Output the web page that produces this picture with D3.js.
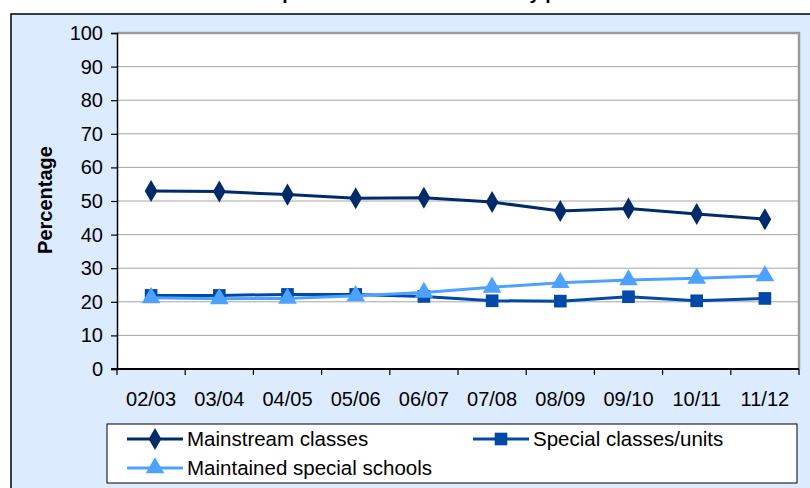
<!DOCTYPE html>
<html>
<head>
<meta charset="utf-8">
<script src="https://cdn.jsdelivr.net/npm/d3@7"></script>
<style>
  body { margin: 0; background: #fff; }
  svg { display: block; font-family: "Liberation Sans", Arial, sans-serif; }
</style>
</head>
<body>
<div id="chart"></div>
<script>
// data
var years = ["02/03", "03/04", "04/05", "05/06", "06/07", "07/08", "08/09", "09/10", "10/11", "11/12"];
var mainstream = [53.0, 52.8, 51.9, 50.8, 51.0, 49.7, 47.0, 47.8, 46.1, 44.6];
var specialUnits = [21.9, 21.9, 22.2, 22.2, 21.6, 20.3, 20.2, 21.5, 20.3, 21.0];
var specialSchools = [21.2, 20.9, 21.0, 21.8, 22.8, 24.3, 25.7, 26.5, 27.0, 27.7];
var yTicks = [0, 10, 20, 30, 40, 50, 60, 70, 80, 90, 100];

var series = [
  {name: "Mainstream classes", values: mainstream, color: "#002b6b", shape: "diamond"},
  {name: "Special classes/units", values: specialUnits, color: "#0049a9", shape: "square"},
  {name: "Maintained special schools", values: specialSchools, color: "#4da1ff", shape: "triangle"}
];

var W = 810, H = 488;
var margin = {top: 33, right: 11, bottom: 119, left: 117},
    width = W - margin.left - margin.right,
    height = H - margin.top - margin.bottom;

var svg = d3.select("#chart")
  .append("svg")
  .attr("width", W)
  .attr("height", H);

// chart area background + border
svg.append("rect")
  .attr("x", 11).attr("y", 14)
  .attr("width", W + 20).attr("height", H)
  .attr("fill", "#dcebfe")
  .attr("stroke", "#000")
  .attr("stroke-width", 1.5);

// title, cut off above the frame (only descenders show)
svg.append("text")
  .attr("x", 408).attr("y", -1)
  .attr("text-anchor", "middle")
  .style("font-size", "19px")
  .style("font-weight", "bold")
  .text("Statement placements in all schools by provision");

var g = svg.append("g")
  .attr("transform", "translate(" + margin.left + "," + margin.top + ")");

var x = d3.scaleBand()
  .domain(years)
  .range([0, width]);

var y = d3.scaleLinear()
  .domain([0, 100])
  .range([height, 0]);

// plot area
g.append("rect")
  .attr("width", width).attr("height", height)
  .attr("fill", "#fff");

// gridlines
g.selectAll(".grid")
  .data(yTicks.filter(function(d) { return d > 0 && d < 100; }))
  .enter()
  .append("line")
  .attr("x1", 0).attr("x2", width)
  .attr("y1", function(d) { return y(d); })
  .attr("y2", function(d) { return y(d); })
  .attr("stroke", "#a6a6a6")
  .attr("stroke-width", 1);

// gray frame top / right
g.append("path")
  .attr("d", "M0," + y(100) + "H" + width + "V" + height)
  .attr("fill", "none")
  .attr("stroke", "#9a9a9a")
  .attr("stroke-width", 2.5);

// y axis
var yAxis = g.append("g")
  .call(d3.axisLeft(y).tickValues(yTicks).tickSize(6).tickPadding(8));
yAxis.select(".domain").attr("stroke", "#000").attr("stroke-width", 1.5);
yAxis.selectAll(".tick line").attr("stroke", "#000").attr("stroke-width", 1.2);
yAxis.selectAll("text")
  .style("font-size", "20px")
  .attr("fill", "#000");

// x axis with ticks between categories
var xAxis = g.append("g")
  .attr("transform", "translate(0," + height + ")");
xAxis.append("line")
  .attr("x1", -6).attr("x2", width)
  .attr("stroke", "#000").attr("stroke-width", 2);
xAxis.selectAll(".xtick")
  .data(years.concat(["end"]))
  .enter()
  .append("line")
  .attr("x1", function(d, i) { return i < years.length ? x(d) : width; })
  .attr("x2", function(d, i) { return i < years.length ? x(d) : width; })
  .attr("y1", 0).attr("y2", 6)
  .attr("stroke", "#000").attr("stroke-width", 1.2);
xAxis.selectAll(".xlabel")
  .data(years)
  .enter()
  .append("text")
  .attr("x", function(d) { return x(d) + x.bandwidth() / 2; })
  .attr("y", 37)
  .attr("text-anchor", "middle")
  .style("font-size", "20px")
  .text(function(d) { return d; });

// y axis title
svg.append("text")
  .attr("transform", "translate(52,200) rotate(-90)")
  .attr("text-anchor", "middle")
  .style("font-size", "20px")
  .style("font-weight", "bold")
  .text("Percentage");

var symbolType = {diamond: d3.symbolDiamond, square: d3.symbolSquare, triangle: d3.symbolTriangle};
var symbolSize = {diamond: 140, square: 160, triangle: 150};

function marker(sel, s) {
  sel.attr("d", d3.symbol().type(symbolType[s.shape]).size(symbolSize[s.shape])())
    .attr("fill", s.color);
}

var line = d3.line()
  .x(function(d, i) { return x(years[i]) + x.bandwidth() / 2; })
  .y(function(d) { return y(d); });

series.forEach(function(s) {
  var sg = g.append("g");
  sg.append("path")
    .datum(s.values)
    .attr("d", line)
    .attr("fill", "none")
    .attr("stroke", s.color)
    .attr("stroke-width", 3);
  sg.selectAll("path.pt")
    .data(s.values)
    .enter()
    .append("path")
    .attr("class", "pt")
    .attr("transform", function(d, i) {
      return "translate(" + (x(years[i]) + x.bandwidth() / 2) + "," + y(d) + ")";
    })
    .call(marker, s);
});

// legend
var legend = svg.append("g");
legend.append("rect")
  .attr("x", 107).attr("y", 424)
  .attr("width", 690).attr("height", 59)
  .attr("fill", "#fff")
  .attr("stroke", "#000")
  .attr("stroke-width", 1);

var legendPos = [[127, 439], [473, 439], [127, 468]];
series.forEach(function(s, i) {
  var p = legendPos[i];
  var lg = legend.append("g").attr("transform", "translate(" + p[0] + "," + p[1] + ")");
  lg.append("line")
    .attr("x1", 0).attr("x2", 56)
    .attr("stroke", s.color).attr("stroke-width", 3);
  lg.append("path")
    .attr("transform", "translate(28,0)")
    .call(marker, s);
  lg.append("text")
    .attr("x", 60).attr("y", 7)
    .style("font-size", "20.5px")
    .text(s.name);
});
</script>
</body>
</html>
